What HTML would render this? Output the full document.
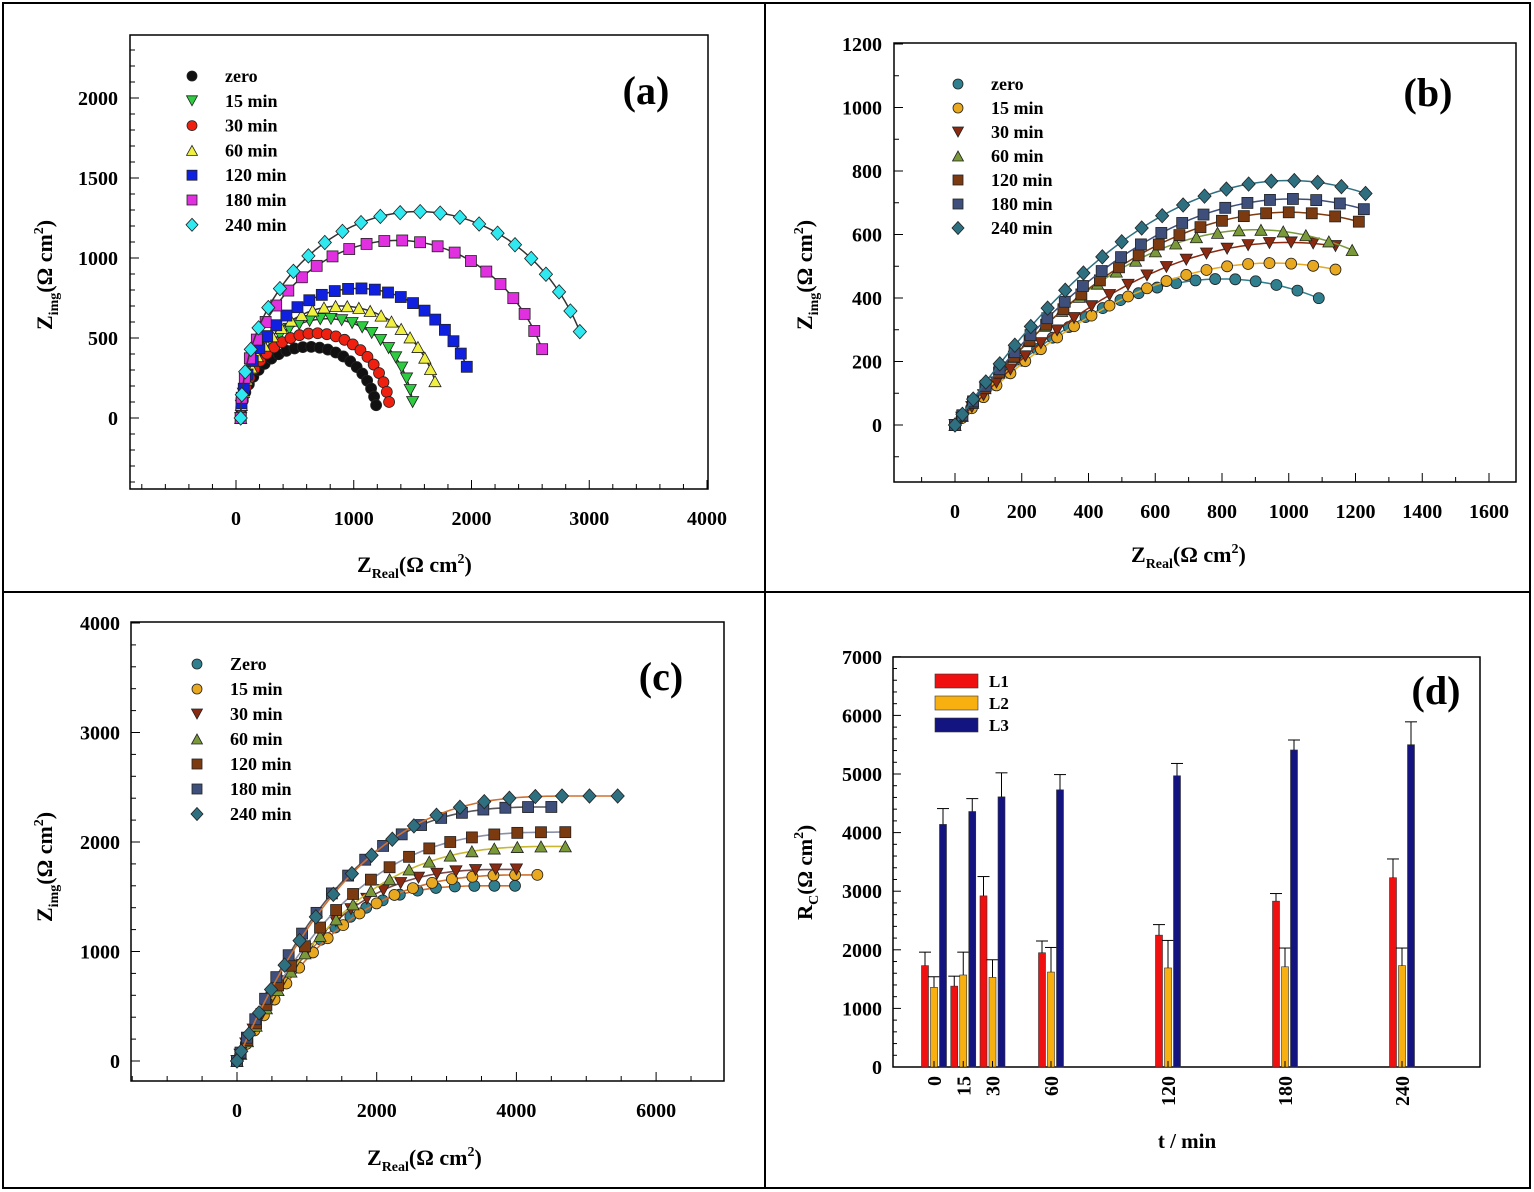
<!DOCTYPE html>
<html><head><meta charset="utf-8"><style>
html,body{margin:0;padding:0;background:#fff}
svg{display:block;font-family:"Liberation Serif",serif;font-weight:bold}
</style></head><body>
<svg id="s" width="1534" height="1192" viewBox="0 0 1534 1192" xmlns="http://www.w3.org/2000/svg"></svg>
<script>
const S=document.getElementById('s');let h='';
h+='<rect x="3" y="3" width="1527" height="1185" fill="none" stroke="#000" stroke-width="2"/>';
h+='<line x1="765" y1="3" x2="765" y2="1188" stroke="#000" stroke-width="2"/>';
h+='<line x1="3" y1="592" x2="1530" y2="592" stroke="#000" stroke-width="2"/>';
function mk(t,x,y,c,r){r=r||5.5;const st=`fill="${c}" stroke="#222" stroke-width="0.8"`;
 if(t=='o')return `<circle cx="${x}" cy="${y}" r="${r}" ${st}/>`;
 if(t=='s')return `<rect x="${x-r}" y="${y-r}" width="${2*r}" height="${2*r}" ${st}/>`;
 if(t=='d')return `<polygon points="${x},${y-r*1.3} ${x+r*1.2},${y} ${x},${y+r*1.3} ${x-r*1.2},${y}" ${st}/>`;
 if(t=='v')return `<polygon points="${x-r*1.1},${y-r} ${x+r*1.1},${y-r} ${x},${y+r}" ${st}/>`;
 if(t=='^')return `<polygon points="${x-r*1.1},${y+r} ${x+r*1.1},${y+r} ${x},${y-r}" ${st}/>`;}
function axes(P){const{x0,x1,y0,y1,fx,fy,xt,yt,xm,ym,xr,yr}=P;
 h+=`<rect x="${x0}" y="${y0}" width="${x1-x0}" height="${y1-y0}" fill="none" stroke="#000" stroke-width="1.5"/>`;
 for(let v=xr[0];v<=xr[1]+1e-6;v+=xm){const X=fx(v);if(X<x0||X>x1)continue;const maj=Math.abs(v/xt-Math.round(v/xt))<1e-6;
  h+=`<line x1="${X}" y1="${y1}" x2="${X}" y2="${y1-(maj?9:5)}" stroke="#000"/>`;
  if(maj&&P.xl!==false)h+=`<text x="${X}" y="${y1+36}" font-size="20" text-anchor="middle">${v}</text>`;}
 for(let v=yr[0];v<=yr[1]+1e-6;v+=ym){const Y=fy(v);if(Y<y0||Y>y1)continue;const maj=Math.abs(v/yt-Math.round(v/yt))<1e-6;
  h+=`<line x1="${x0}" y1="${Y}" x2="${x0+(maj?9:5)}" y2="${Y}" stroke="#000"/>`;
  if(maj)h+=`<text x="${P.ylx}" y="${Y+7}" font-size="20" text-anchor="end">${v}</text>`;}}
function legend(items,x,y,dy){items.forEach((it,i)=>{h+=mk(it[1],x,y+i*dy,it[2],5);h+=`<text x="${x+33}" y="${y+i*dy+6}" font-size="18">${it[0]}</text>`;});}
const names=['zero','15 min','30 min','60 min','120 min','180 min','240 min'];
// (a)
{const fx=v=>236+v*0.11775,fy=v=>418-v*0.16;
 axes({x0:130,x1:708,y0:35,y1:489,fx,fy,xt:1000,yt:500,xm:200,ym:100,xr:[-800,4000],yr:[-400,2300],ylx:118});
 const A=[['o','#111',1190,80,445],['v','#2ecc40',1500,100,620],['o','#f02010',1300,100,530],['^','#f0f040',1690,230,700],['s','#1020e0',1960,320,810],['s','#e030e0',2600,430,1110],['d','#30e8f0',2920,540,1290]];
 A.forEach(a=>{const[t,c,xe,ye,ym]=a;const te=Math.asin(ye/ym),r=(xe-40)/(1+Math.cos(te)),xc=40+r;
  let d='';for(let i=0;i<=80;i++){const th=Math.PI-(Math.PI-te)*i/80;d+=(i?'L':'M')+fx(xc+r*Math.cos(th)).toFixed(1)+','+fy(ym*Math.sin(th)).toFixed(1);}
  h+=`<path d="${d}" fill="none" stroke="#333" stroke-width="1.5"/>`;
  const n=24;for(let i=0;i<=n;i++){const th=Math.PI-(Math.PI-te)*i/n;h+=mk(t,fx(xc+r*Math.cos(th)),fy(ym*Math.sin(th)),c);}});
 legend(A.map((a,i)=>[names[i],a[0],a[1]]),192,76,24.8);
 h+=`<text x="646" y="104" font-size="40" text-anchor="middle">(a)</text>`;
 h+=`<text x="357" y="572" font-size="22">Z<tspan font-size="14" dy="6">Real</tspan><tspan dy="-6">(Ω cm</tspan><tspan font-size="14" dy="-9">2</tspan><tspan dy="9">)</tspan></text>`;
 h+=`<text transform="translate(52,330) rotate(-90)" font-size="22">Z<tspan font-size="14" dy="6">img</tspan><tspan dy="-6">(Ω cm</tspan><tspan font-size="14" dy="-9">2</tspan><tspan dy="9">)</tspan></text>`;}
const B=[['o','#2f7f8f'],['o','#e8a820'],['v','#8b2a10'],['^','#7a9a3a'],['s','#7b3a10'],['s','#3d4f7a'],['d','#2e6f80']];
// (b)
{const fx=v=>955+v*0.33375,fy=v=>425-v*0.3175;
 axes({x0:894,x1:1516,y0:43,y1:482,fx,fy,xt:200,yt:200,xm:100,ym:100,xr:[-100,1600],yr:[-100,1200],ylx:882});
 const D=[[1090,460,800],[1140,510,950],[1140,575,1000],[1190,615,900],[1210,670,1000],[1225,712,1010],[1230,770,1000]];
 D.forEach((p,i)=>{const[xe,ym,xp]=p;const f=x=>ym*(1-Math.pow(1-x/xp,2));let d='';
  for(let k=0;k<=80;k++){const x=xe*k/80;d+=(k?'L':'M')+fx(x).toFixed(1)+','+fy(f(x)).toFixed(1);}
  h+=`<path d="${d}" fill="none" stroke="${B[i][1]}" stroke-width="1.5"/>`;
  const n=22;for(let k=0;k<=n;k++){const x=xe*Math.pow(k/n,1.3);h+=mk(B[i][0],fx(x),fy(f(x)),B[i][1]);}});
 legend(B.map((b,i)=>[names[i],b[0],b[1]]),958,84,24);
 h+=`<text x="1428" y="106" font-size="40" text-anchor="middle">(b)</text>`;
 h+=`<text x="1131" y="562" font-size="22">Z<tspan font-size="14" dy="6">Real</tspan><tspan dy="-6">(Ω cm</tspan><tspan font-size="14" dy="-9">2</tspan><tspan dy="9">)</tspan></text>`;
 h+=`<text transform="translate(812,330) rotate(-90)" font-size="22">Z<tspan font-size="14" dy="6">img</tspan><tspan dy="-6">(Ω cm</tspan><tspan font-size="14" dy="-9">2</tspan><tspan dy="9">)</tspan></text>`;}
// (c)
{const fx=v=>237+v*0.06985,fy=v=>1061-v*0.1095;
 axes({x0:131,x1:724,y0:622,y1:1081,fx,fy,xt:2000,yt:1000,xm:500,ym:200,xr:[-1500,7000],yr:[-200,4000],ylx:120});
 const D=[[3980,1600,3700],[4300,1700,4300],[4000,1750,4000],[4700,1960,4700],[4700,2090,4700],[4500,2320,4500],[5450,2420,4900]];
 const LC=['#d07030','#d07030','#7a4a4a','#c8b830','#8a90a8','#555','#d07030'];
 D.forEach((p,i)=>{const[xe,ym,xp]=p;const f=x=>x>=xp?ym:ym*(1-Math.pow(1-x/xp,3));let d='';
  for(let k=0;k<=80;k++){const x=xe*k/80;d+=(k?'L':'M')+fx(x).toFixed(1)+','+fy(f(x)).toFixed(1);}
  h+=`<path d="${d}" fill="none" stroke="${LC[i]}" stroke-width="1.6"/>`;
  const n=20;for(let k=0;k<=n;k++){const x=xe*Math.pow(k/n,1.5);h+=mk(B[i][0],fx(x),fy(f(x)),B[i][1]);}});
 legend(B.map((b,i)=>[i?names[i]:'Zero',b[0],b[1]]),197,664,25);
 h+=`<text x="661" y="690" font-size="40" text-anchor="middle">(c)</text>`;
 h+=`<text x="367" y="1165" font-size="22">Z<tspan font-size="14" dy="6">Real</tspan><tspan dy="-6">(Ω cm</tspan><tspan font-size="14" dy="-9">2</tspan><tspan dy="9">)</tspan></text>`;
 h+=`<text transform="translate(52,922) rotate(-90)" font-size="22">Z<tspan font-size="14" dy="6">img</tspan><tspan dy="-6">(Ω cm</tspan><tspan font-size="14" dy="-9">2</tspan><tspan dy="9">)</tspan></text>`;}
// (d)
{const fy=v=>1067-v*0.0586;
 h+=`<rect x="893" y="657" width="587" height="410" fill="none" stroke="#000" stroke-width="1.5"/>`;
 for(let v=0;v<=7000;v+=200){const maj=v%1000==0;h+=`<line x1="893" y1="${fy(v)}" x2="${maj?901:897}" y2="${fy(v)}" stroke="#000"/>`;if(maj)h+=`<text x="882" y="${fy(v)+7}" font-size="20" text-anchor="end">${v}</text>`;}
 const T=[0,15,30,60,120,180,240];
 const L1=[1730,1380,2920,1950,2250,2830,3230],E1=[230,170,330,200,180,130,320];
 const L2=[1360,1570,1530,1620,1690,1710,1730],E2=[180,390,300,420,470,320,300];
 const L3=[4140,4360,4610,4730,4970,5410,5500],E3=[270,220,410,260,210,170,390];
 T.forEach((t,i)=>{const c=934+t*1.95;
  [[L1,E1,'#f01010',-9],[L2,E2,'#f8b010',0],[L3,E3,'#141480',9]].forEach(s=>{const v=s[0][i],e=s[1][i],x=c+s[3];
   h+=`<rect x="${x-3.5}" y="${fy(v)}" width="7" height="${1067-fy(v)}" fill="${s[2]}" stroke="#333" stroke-width="0.6"/>`;
   h+=`<line x1="${x}" y1="${fy(v)}" x2="${x}" y2="${fy(v+e)}" stroke="#000"/><line x1="${x-6}" y1="${fy(v+e)}" x2="${x+6}" y2="${fy(v+e)}" stroke="#000"/>`;});
  h+=`<line x1="${c}" y1="1067" x2="${c}" y2="1061" stroke="#000"/>`;
  h+=`<text transform="translate(${c+7},1076) rotate(-90)" font-size="20" text-anchor="end">${t}</text>`;});
 [['L1','#f01010'],['L2','#f8b010'],['L3','#141480']].forEach((l,i)=>{h+=`<rect x="935" y="${674+i*22}" width="43" height="14" fill="${l[1]}" stroke="#333" stroke-width="0.6"/><text x="989" y="${687+i*22}" font-size="17">${l[0]}</text>`;});
 h+=`<text x="1436" y="704" font-size="40" text-anchor="middle">(d)</text>`;
 h+=`<text x="1187" y="1148" font-size="21" text-anchor="middle">t / min</text>`;
 h+=`<text transform="translate(812,920) rotate(-90)" font-size="21">R<tspan font-size="14" dy="6">C</tspan><tspan dy="-6">(Ω cm</tspan><tspan font-size="14" dy="-9">2</tspan><tspan dy="9">)</tspan></text>`;}
S.innerHTML=h;
</script>
</body></html>
